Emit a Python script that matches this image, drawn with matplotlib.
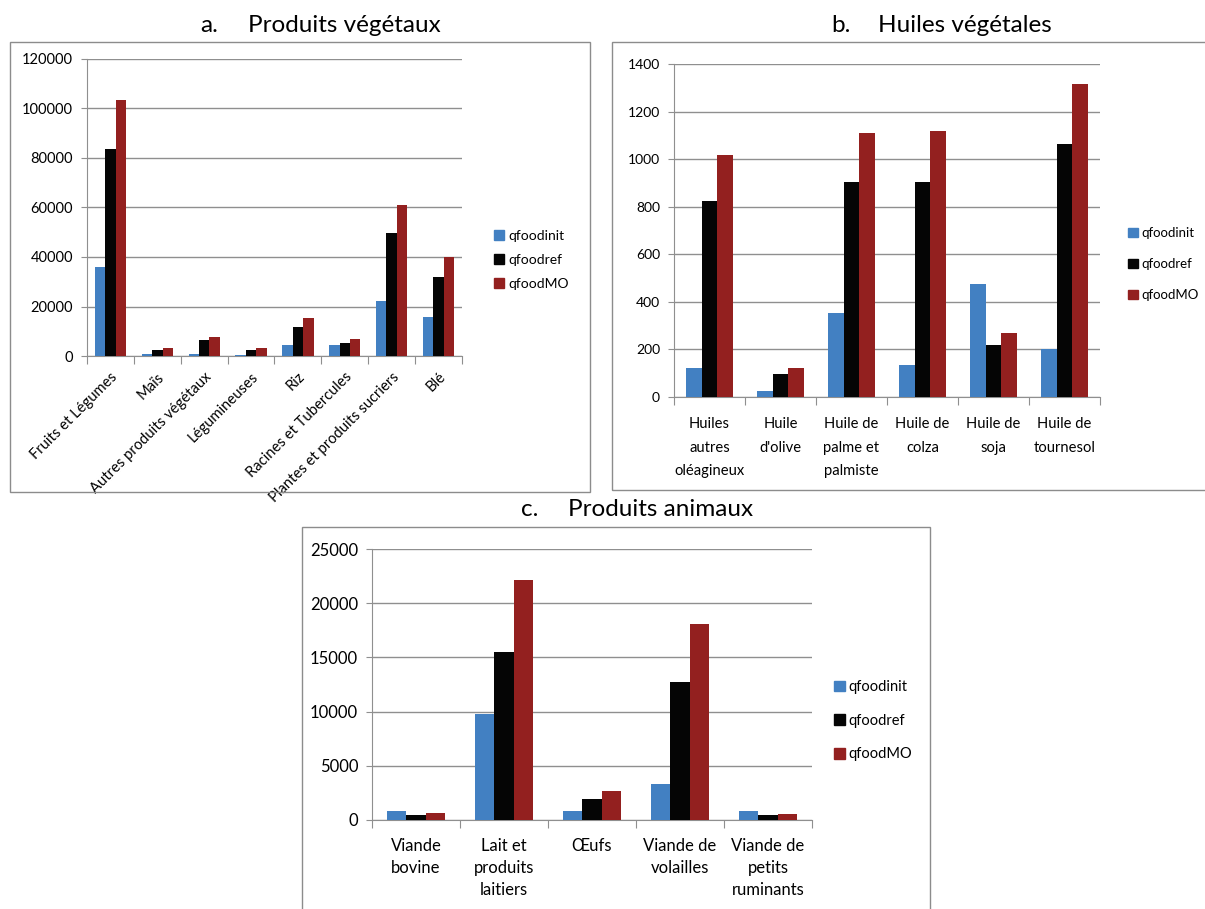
import matplotlib
matplotlib.use("Agg")
import matplotlib.pyplot as plt
import numpy as np
from matplotlib.patches import Rectangle, Patch

plt.rcParams['font.family'] = ['Lato', 'DejaVu Sans']

series = ["qfoodinit", "qfoodref", "qfoodMO"]
colors = ["#4280C2", "#050505", "#93201F"]

cat_a = ["Fruits et Légumes", "Maïs", "Autres produits végétaux", "Légumineuses",
         "Riz", "Racines et Tubercules", "Plantes et produits sucriers", "Blé"]
a_init = [35800, 950, 950, 500, 4600, 4600, 22300, 15700]
a_ref = [83500, 2300, 6300, 2300, 11900, 5400, 49500, 32100]
a_mo = [103300, 3100, 7500, 3100, 15300, 6700, 61000, 40000]

cat_b = ["Huiles\nautres\noléagineux", "Huile\nd'olive", "Huile de\npalme et\npalmiste",
         "Huile de\ncolza", "Huile de\nsoja", "Huile de\ntournesol"]
b_init = [120, 27, 353, 134, 473, 201]
b_ref = [825, 98, 902, 902, 218, 1064]
b_mo = [1016, 120, 1111, 1118, 269, 1315]

cat_c = ["Viande\nbovine", "Lait et\nproduits\nlaitiers", "Œufs", "Viande de\nvolailles",
         "Viande de\npetits\nruminants"]
c_init = [795, 9810, 795, 3360, 795]
c_ref = [460, 15530, 1900, 12740, 460]
c_mo = [670, 22100, 2630, 18060, 550]

W, H = 1205, 909
fig = plt.figure(figsize=(W / 100, H / 100), dpi=100)

def px_axes(x0, y0, x1, y1):
    return fig.add_axes([x0 / W, 1 - y1 / H, (x1 - x0) / W, (y1 - y0) / H])

def box(x0, y0, x1, y1):
    fig.patches.append(Rectangle((x0 / W, 1 - y1 / H), (x1 - x0) / W, (y1 - y0) / H,
                                 transform=fig.transFigure, fill=False,
                                 edgecolor="#8c8c8c", linewidth=1.0))

def draw(ax, cats, vals, ymax, ystep, ytick_fs, xtick_fs, xpad, ls=1.45, rotate=False):
    n = len(cats)
    x = np.arange(n)
    bw = 1 / 4.5
    for i, (v, c) in enumerate(zip(vals, colors)):
        ax.bar(x + (i - 1) * bw, v, width=bw, color=c, label=series[i], zorder=3)
    ax.set_xlim(-0.5, n - 0.5)
    ax.set_ylim(0, ymax)
    ax.set_yticks(np.arange(0, ymax + 1, ystep))
    ax.set_yticklabels([f"{int(t)}" for t in np.arange(0, ymax + 1, ystep)], fontsize=ytick_fs)
    ax.yaxis.grid(True, color="#8f8f8f", linewidth=1.0, zorder=0)
    ax.set_axisbelow(True)
    for s in ["top", "right"]:
        ax.spines[s].set_visible(False)
    for s in ["left", "bottom"]:
        ax.spines[s].set_color("#8f8f8f")
    ax.tick_params(axis="y", length=4, color="#8f8f8f", pad=6)
    ax.set_xticks(np.arange(-0.5, n, 1.0))
    ax.set_xticklabels([])
    ax.tick_params(axis="x", which="major", length=6, color="#8f8f8f")
    ax.set_xticks(x, minor=True)
    if rotate:
        ax.set_xticklabels(cats, minor=True, rotation=45, ha="right",
                           rotation_mode="anchor", fontsize=xtick_fs)
    else:
        ax.set_xticklabels(cats, minor=True, fontsize=xtick_fs, linespacing=ls)
    ax.tick_params(axis="x", which="minor", length=0, pad=xpad)

def legend(x, y, fs, spacing):
    handles = [Patch(facecolor=c, edgecolor=c) for c in colors]
    fig.legend(handles, series, loc="upper left", bbox_to_anchor=(x / W, 1 - y / H),
               bbox_transform=fig.transFigure, frameon=False, fontsize=fs,
               handlelength=0.75, handleheight=0.75, handletextpad=0.25,
               labelspacing=spacing, borderpad=0, borderaxespad=0)

def title(xdot, xtext, y, letter, text):
    fig.text(xdot / W, 1 - y / H, letter, ha="left", va="center", fontsize=17.5)
    fig.text(xtext / W, 1 - y / H, text, ha="left", va="center", fontsize=17.5)

# Panel a
box(10, 42, 590, 492)
ax_a = px_axes(87, 59, 462, 356)
draw(ax_a, cat_a, [a_init, a_ref, a_mo], 120000, 20000, 10.5, 10.6, 10, rotate=True)
legend(494, 230, 10, 0.85)
title(200, 248, 25, "a.", "Produits végétaux")

# Panel b
box(612, 42, 1215, 490)
ax_b = px_axes(674, 64, 1100, 397)
draw(ax_b, cat_b, [b_init, b_ref, b_mo], 1400, 200, 10, 10.6, 14.5, ls=1.86)
legend(1128, 227, 9.5, 1.45)
title(831, 878, 25, "b.", "Huiles végétales")

# Panel c
box(302, 527, 930, 920)
ax_c = px_axes(372, 549, 812, 820)
draw(ax_c, cat_c, [c_init, c_ref, c_mo], 25000, 5000, 12, 12, 13)
legend(834, 680, 10.5, 1.35)
title(521, 568, 510, "c.", "Produits animaux")

fig.savefig("out.png", dpi=100)
